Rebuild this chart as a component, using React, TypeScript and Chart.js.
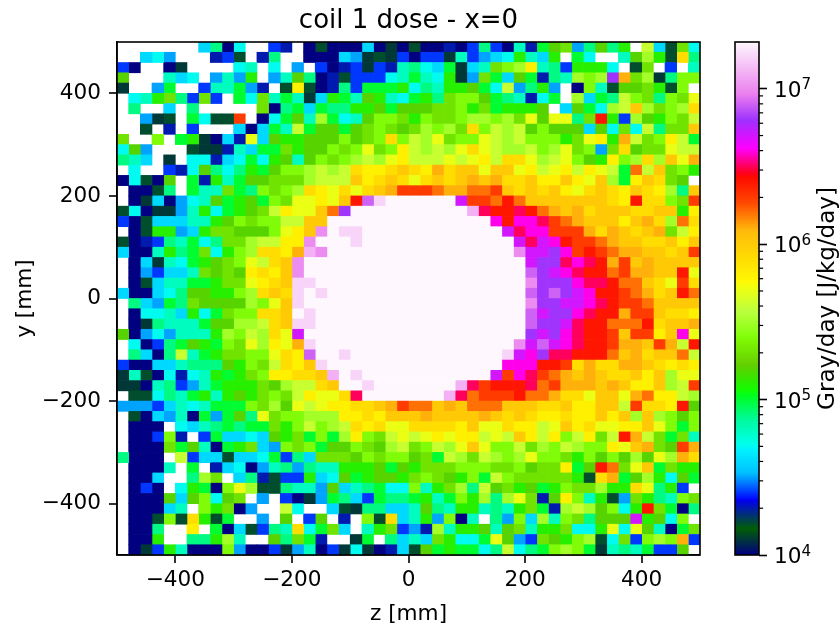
import React, { useEffect, useRef } from "react";
import { Chart, registerables } from "chart.js";

Chart.register(...registerables);

// Dose per cell, tenths of log10(Gray/day). 0 = empty cell. Rows run top (y=+490) to bottom (y=-490), columns z=-490..490.
const doseRow00 = [0,0,0,0,0,0,0,46,49,40,47,0,0,44,43,0,40,42,40,40,40,46,40,41,40,42,40,40,43,40,44,49,44,40,48,43,50,52,53,45,49,52,49,51,0,56,46,42,53,47];
const doseRow01 = [0,0,46,47,45,0,0,0,43,44,42,0,43,49,0,0,40,40,40,46,45,41,42,41,44,40,44,44,41,48,44,45,46,47,51,48,46,51,0,50,47,0,0,48,52,55,51,42,59,49];
const doseRow02 = [44,40,0,0,40,41,0,0,0,0,47,48,0,47,0,45,0,44,40,43,44,41,44,43,48,49,47,46,50,41,46,48,53,54,55,58,48,49,44,51,51,51,47,0,42,53,0,44,0,48];
const doseRow03 = [52,0,0,0,48,46,47,0,45,48,45,51,0,45,48,52,49,40,43,42,44,44,44,47,48,50,48,47,51,41,45,53,50,46,52,50,43,49,48,55,54,55,68,61,53,55,41,49,54,54];
const doseRow04 = [41,0,0,45,50,0,0,44,48,48,50,45,43,0,42,58,42,40,43,49,44,50,50,50,51,47,49,48,51,51,52,50,47,56,45,49,51,45,0,40,54,48,42,52,52,53,51,42,54,0];
const doseRow05 = [0,47,48,51,53,49,44,53,44,0,50,47,53,48,50,48,41,46,51,50,48,52,51,48,47,50,51,49,53,54,54,52,50,49,48,43,47,50,0,55,46,50,49,56,54,53,49,54,53,57];
const doseRow06 = [0,49,0,0,46,0,49,0,0,0,0,0,53,40,49,50,46,50,49,49,51,51,52,50,52,52,52,53,53,54,51,53,50,51,51,51,52,0,46,52,50,47,55,56,60,55,53,54,55,59];
const doseRow07 = [0,0,45,41,42,0,50,47,42,42,63,0,40,47,50,52,48,55,50,47,48,52,54,54,53,51,54,53,53,54,55,55,54,55,53,57,52,57,57,49,53,64,51,44,55,52,51,54,53,56];
const doseRow08 = [0,0,42,0,43,0,44,0,0,0,46,40,46,50,48,56,50,52,52,50,52,53,54,53,52,53,55,54,55,53,59,54,56,55,56,52,54,52,52,52,46,52,47,53,47,56,49,53,53,60];
const doseRow09 = [53,0,0,54,0,50,51,41,40,46,43,57,46,52,51,51,52,52,52,54,52,53,54,59,54,56,55,57,53,54,54,57,56,55,56,54,54,54,51,53,57,58,51,61,56,53,54,58,56,50];
const doseRow10 = [47,52,45,0,0,0,42,41,41,43,48,46,50,50,53,51,52,52,54,53,54,57,53,54,58,56,55,56,55,57,59,57,56,55,55,56,54,55,57,53,54,45,53,59,52,53,53,57,56,56];
const doseRow11 = [49,48,46,0,41,0,47,47,43,46,47,50,47,51,52,48,52,54,53,54,55,56,55,57,58,56,56,56,57,56,57,58,56,59,59,57,55,56,57,54,52,51,58,54,55,59,55,60,57,61];
const doseRow12 = [0,47,0,0,44,43,47,52,49,47,49,51,50,52,54,54,55,56,55,56,59,58,58,59,60,59,58,61,59,60,60,57,60,60,57,58,56,57,58,56,58,57,56,50,62,56,60,53,54,51];
const doseRow13 = [40,47,42,40,52,0,50,43,51,48,50,52,52,53,53,53,55,56,56,56,60,58,59,60,59,57,59,60,59,60,61,60,61,59,59,60,58,58,60,58,57,60,55,50,58,60,59,53,52,0];
const doseRow14 = [0,40,40,42,49,0,50,48,48,53,50,49,54,53,54,55,59,58,57,59,57,59,60,61,63,63,63,62,61,61,62,62,63,60,59,60,59,60,58,57,59,60,59,58,60,59,58,55,49,60];
const doseRow15 = [0,40,41,46,40,45,47,48,52,50,51,52,50,54,53,57,57,58,57,60,64,69,72,73,73,73,73,73,73,67,63,63,62,64,62,60,60,60,60,60,60,60,59,58,64,59,59,54,53,63];
const doseRow16 = [42,47,40,41,41,45,48,51,47,50,51,52,53,56,58,57,57,60,62,68,73,73,73,73,73,73,73,73,73,73,71,65,64,64,65,64,62,61,60,61,59,60,60,60,59,59,60,60,51,58];
const doseRow17 = [44,40,42,46,46,46,48,48,51,52,54,53,54,54,56,56,60,60,73,73,73,73,73,73,73,73,73,73,73,73,73,73,66,64,66,66,65,63,62,61,60,60,60,58,60,61,59,55,62,59];
const doseRow18 = [0,40,42,51,51,45,46,51,53,53,52,52,52,54,57,58,60,70,73,72,72,73,73,73,73,73,73,73,73,73,73,73,73,67,65,66,66,63,63,63,61,59,61,60,59,60,61,53,56,58];
const doseRow19 = [42,40,43,44,49,48,50,47,49,53,53,55,56,56,58,58,70,73,73,73,72,73,73,73,73,73,73,73,73,73,73,73,73,73,67,65,67,66,64,63,63,62,61,60,60,59,59,60,58,60];
const doseRow20 = [46,40,40,48,51,49,50,53,47,51,54,55,59,59,58,61,71,70,73,73,73,73,73,73,73,73,73,73,73,73,73,73,73,73,70,67,67,68,66,63,64,63,62,61,61,60,60,59,60,63];
const doseRow21 = [0,40,46,41,48,47,50,51,52,53,54,57,56,59,60,70,73,73,73,73,73,73,73,73,73,73,73,73,73,73,73,73,73,73,73,67,68,68,65,66,65,64,61,63,60,61,60,60,60,60];
const doseRow22 = [0,40,45,44,46,46,48,53,52,53,52,58,59,58,60,70,73,73,73,73,73,73,73,73,73,73,73,73,73,73,73,73,73,73,73,69,68,67,66,65,64,64,62,63,61,61,60,60,64,57];
const doseRow23 = [0,40,42,46,48,48,50,50,51,53,53,57,58,59,60,72,72,73,73,73,73,73,73,73,73,73,73,73,73,73,73,73,73,73,73,70,68,68,68,66,65,65,64,62,62,60,59,57,63,59];
const doseRow24 = [46,40,40,46,47,49,52,52,51,51,54,55,59,60,59,72,73,72,73,73,73,73,73,73,73,73,73,73,73,73,73,73,73,73,73,69,68,69,68,67,66,64,64,63,62,61,59,60,64,62];
const doseRow25 = [0,49,46,45,50,49,53,52,52,52,52,55,54,57,60,72,73,73,73,73,73,73,73,73,73,73,73,73,73,73,73,73,73,73,73,70,68,68,67,67,66,65,64,63,63,62,60,60,60,60];
const doseRow26 = [0,40,47,47,48,46,51,47,50,53,54,54,59,59,60,73,72,73,73,73,73,73,73,73,73,73,73,73,73,73,73,73,73,73,73,69,67,68,68,66,65,64,64,61,63,63,60,59,59,58];
const doseRow27 = [0,40,41,49,48,48,48,50,52,52,55,55,56,59,60,72,72,73,73,73,73,73,73,73,73,73,73,73,73,73,73,73,73,73,73,69,68,68,67,65,64,64,62,62,62,64,59,60,60,61];
const doseRow28 = [52,40,45,47,45,48,48,48,51,55,54,56,55,59,57,67,73,73,73,73,73,73,73,73,73,73,73,73,73,73,73,73,73,73,73,68,67,68,66,65,64,64,63,60,63,63,58,60,66,57];
const doseRow29 = [0,47,40,44,49,50,52,51,50,54,53,57,55,58,57,61,72,73,73,73,73,73,73,73,73,73,73,73,73,73,73,73,73,73,70,67,69,67,66,65,64,64,63,61,61,60,63,61,56,64];
const doseRow30 = [0,49,46,40,49,56,48,50,51,53,53,54,54,57,59,58,69,73,73,72,73,73,73,73,73,73,73,73,73,73,73,73,73,72,67,66,68,65,65,64,64,64,62,60,61,59,60,60,62,56];
const doseRow31 = [44,40,40,46,46,48,49,49,49,52,51,54,53,56,59,58,60,72,73,73,73,73,73,73,73,73,73,73,73,73,73,73,73,66,66,66,64,64,63,59,61,59,59,61,61,60,59,58,59,58];
const doseRow32 = [41,48,42,40,47,43,47,48,51,50,51,53,54,58,58,59,59,60,71,73,72,73,73,73,73,73,73,73,73,73,73,73,67,63,66,65,63,62,61,60,61,60,59,59,60,58,60,55,57,57];
const doseRow33 = [41,41,40,48,49,44,45,48,50,51,51,51,53,52,55,56,56,59,60,73,73,72,73,73,73,73,73,73,73,71,65,63,64,64,64,65,62,63,61,61,61,60,61,60,58,58,60,55,56,63];
const doseRow34 = [0,42,42,47,49,48,50,51,48,51,52,51,53,54,53,56,58,57,57,59,65,73,73,73,73,73,73,73,71,65,62,63,63,63,64,62,62,61,59,59,57,60,60,57,61,62,58,58,56,55];
const doseRow35 = [45,45,45,44,46,48,47,48,50,50,50,54,53,55,52,57,56,57,58,58,59,59,60,61,63,62,62,60,61,60,62,62,62,60,60,60,59,59,60,58,58,60,60,56,63,59,59,58,64,52];
const doseRow36 = [0,42,40,46,45,48,40,50,45,50,52,49,57,53,54,54,55,55,55,58,58,59,58,60,60,60,61,60,60,60,60,61,60,59,60,59,58,58,59,58,58,60,58,60,55,60,55,54,52,54];
const doseRow37 = [0,40,40,40,0,47,46,48,49,50,49,50,50,53,51,54,56,54,55,56,59,58,59,57,57,59,59,59,59,58,60,57,57,59,58,58,56,57,60,58,59,57,57,58,58,60,57,54,50,54];
const doseRow38 = [0,40,40,44,54,43,0,44,50,46,46,47,46,52,51,53,50,54,50,55,58,54,53,56,57,56,57,58,57,58,58,56,57,56,60,58,56,58,54,56,58,53,56,64,61,56,53,50,53,48];
const doseRow39 = [0,40,40,40,53,50,52,48,40,50,51,53,46,45,54,53,54,50,52,52,54,53,52,55,56,53,54,56,55,57,60,57,54,54,56,53,55,54,56,55,54,54,58,57,60,61,53,52,63,61];
const doseRow40 = [49,40,40,40,0,56,44,46,46,42,46,46,47,50,44,49,46,53,53,53,52,54,53,54,54,52,53,50,56,55,53,56,55,54,55,57,54,54,53,51,54,52,54,52,55,52,57,55,61,59];
const doseRow41 = [0,40,40,40,48,0,50,0,43,46,47,40,45,48,49,45,49,48,48,51,51,51,52,50,52,51,53,53,53,54,54,54,53,53,54,52,53,53,58,50,52,64,62,53,57,60,50,53,51,51];
const doseRow42 = [0,40,40,46,0,0,49,55,53,0,46,49,43,42,44,44,51,46,47,52,50,51,52,52,51,53,54,53,52,51,54,50,56,54,53,53,53,53,53,51,42,59,61,50,52,55,51,47,52,50];
const doseRow43 = [0,40,44,40,0,47,51,50,40,54,57,55,42,42,49,48,48,45,52,46,48,49,50,47,47,54,48,51,53,55,49,56,52,53,51,52,50,51,54,53,53,55,51,51,59,57,49,51,44,0];
const doseRow44 = [0,40,40,40,52,46,52,54,47,52,53,0,45,0,44,40,41,45,50,49,46,44,50,49,49,50,51,48,50,54,51,55,49,55,57,53,43,52,58,54,48,51,42,45,53,51,49,48,54,53];
const doseRow45 = [0,40,40,40,46,48,0,54,51,53,40,45,0,0,56,47,0,0,46,42,41,49,49,46,46,48,52,49,48,51,51,48,49,48,51,53,50,43,55,56,55,52,54,47,51,64,53,50,40,49];
const doseRow46 = [0,40,40,42,54,42,59,51,42,50,0,0,45,0,52,0,44,52,0,43,0,54,42,59,46,48,51,45,54,40,48,0,49,45,54,46,55,48,54,53,49,52,52,52,67,51,52,47,54,0];
const doseRow47 = [0,40,40,49,0,0,58,0,50,40,46,42,44,49,48,59,47,50,53,46,0,48,51,53,44,45,43,55,48,51,51,52,48,52,53,48,51,51,53,47,47,51,57,47,57,52,48,40,50,53];
const doseRow48 = [0,40,40,51,0,0,49,49,51,55,48,0,0,52,49,53,50,43,0,0,41,50,0,49,46,48,46,53,51,47,47,50,57,52,45,44,53,52,51,54,55,42,47,53,44,54,55,54,61,44];
const doseRow49 = [0,40,41,44,51,48,40,40,40,54,45,40,40,44,41,45,48,40,44,41,47,41,40,43,46,42,52,50,51,50,50,47,49,56,47,49,50,54,55,54,50,41,48,49,48,50,44,44,52,0];

const doseRows = [
  doseRow00, doseRow01, doseRow02, doseRow03, doseRow04, doseRow05, doseRow06, doseRow07, doseRow08, doseRow09,
  doseRow10, doseRow11, doseRow12, doseRow13, doseRow14, doseRow15, doseRow16, doseRow17, doseRow18, doseRow19,
  doseRow20, doseRow21, doseRow22, doseRow23, doseRow24, doseRow25, doseRow26, doseRow27, doseRow28, doseRow29,
  doseRow30, doseRow31, doseRow32, doseRow33, doseRow34, doseRow35, doseRow36, doseRow37, doseRow38, doseRow39,
  doseRow40, doseRow41, doseRow42, doseRow43, doseRow44, doseRow45, doseRow46, doseRow47, doseRow48, doseRow49,
];

const axisTicks = [-400, -200, 0, 200, 400];
const colorbarMajorTicks = [1e4, 1e5, 1e6, 1e7];
const colorbarExponents = ["4", "5", "6", "7"];
const colorbarMinorTicks = [2e4,3e4,4e4,5e4,6e4,7e4,8e4,9e4,2e5,3e5,4e5,5e5,6e5,7e5,8e5,9e5,2e6,3e6,4e6,5e6,6e6,7e6,8e6,9e6];
const doseMin = 1e4;
const doseMax = 2e7;
const FONT = "'DejaVu Sans'";
const TICK_SIZE = 21.6;

// gist_ncar segment tables
const cmapRed = [[0,0],[0.3098,0],[0.3725,0.3993],[0.4235,0.5003],[0.5333,1],[0.7922,1],[0.8471,0.6218],[0.898,0.9235],[1,0.9961]];
const cmapGreen = [[0,0],[0.051,0.3722],[0.1059,0],[0.1569,0.7202],[0.1608,0.7537],[0.1647,0.7752],[0.2157,1],[0.2588,0.9804],[0.2706,0.9804],[0.3176,1],[0.3686,0.8081],[0.4275,1],[0.5216,1],[0.6314,0.7292],[0.6863,0.2796],[0.7451,0],[0.7922,0],[0.8431,0.1753],[0.898,0.5],[1,0.9725]];
const cmapBlue = [[0,0.502],[0.051,0.0222],[0.1098,1],[0.2039,1],[0.2627,0.6145],[0.3216,0],[0.4157,0],[0.4745,0.2342],[0.5333,0],[0.5804,0],[0.6314,0.0431],[0.6902,0],[0.7373,0],[0.7922,1],[0.8431,1],[0.898,0.9341],[1,0.9961]];

function channel(table: number[][], f: number) {
  for (let i = 1; i < table.length; i++) {
    if (f <= table[i][0]) {
      const [a, av] = table[i - 1];
      const [b, bv] = table[i];
      return Math.round(255 * (av + ((f - a) / (b - a)) * (bv - av)));
    }
  }
  return Math.round(255 * table[table.length - 1][1]);
}
function colorAt(f: number) {
  const t = Math.min(1, Math.max(0, f));
  return `rgb(${channel(cmapRed, t)},${channel(cmapGreen, t)},${channel(cmapBlue, t)})`;
}
const logSpan = Math.log10(doseMax / doseMin);
const colorOfDose = (tenths: number) => colorAt((tenths / 10 - 4) / logSpan);

const frame = {
  id: "frame",
  afterDraw(chart: any) {
    const { ctx, chartArea: a } = chart;
    ctx.save();
    ctx.strokeStyle = "#000";
    ctx.lineWidth = 1.6;
    ctx.strokeRect(a.left, a.top, a.right - a.left, a.bottom - a.top);
    ctx.restore();
  },
};

const colorbarExtras = {
  id: "colorbarExtras",
  afterDraw(chart: any) {
    const { ctx, chartArea: a, scales } = chart;
    ctx.save();
    ctx.strokeStyle = "#000";
    ctx.fillStyle = "#000";
    ctx.lineWidth = 1.2;
    for (const v of colorbarMinorTicks) {
      const y = scales.y.getPixelForValue(v);
      ctx.beginPath();
      ctx.moveTo(a.right, y);
      ctx.lineTo(a.right + 4.1, y);
      ctx.stroke();
    }
    ctx.textAlign = "left";
    ctx.textBaseline = "alphabetic";
    colorbarMajorTicks.forEach((v, i) => {
      const y = scales.y.getPixelForValue(v);
      ctx.font = `${TICK_SIZE}px ${FONT}`;
      ctx.fillText("10", a.right + 15, y + 8);
      ctx.font = `${TICK_SIZE * 0.7}px ${FONT}`;
      ctx.fillText(colorbarExponents[i], a.right + 42.5, y + 0.7);
    });
    ctx.translate(828, 298.5);
    ctx.rotate(-Math.PI / 2);
    ctx.font = `23px ${FONT}`;
    ctx.textAlign = "center";
    ctx.textBaseline = "middle";
    ctx.fillText("Gray/day [J/kg/day]", 0, 0);
    ctx.restore();
  },
};

const tickLabel = (v: any) => String(v).replace("-", "\u2212");

function axisOptions(title: string, tickPad: number, titlePadding: any, fit: (s: any) => void) {
  return {
    type: "linear",
    min: -500,
    max: 500,
    offset: false,
    afterBuildTicks(s: any) {
      s.ticks = axisTicks.map((value) => ({ value }));
    },
    afterFit: fit,
    grid: { offset: false, lineWidth: 0, drawOnChartArea: false, drawTicks: true, tickLength: 8, tickColor: "#000", tickWidth: 1.6 },
    border: { display: true, color: "#000", width: 1.6 },
    ticks: {
      color: "#000",
      font: { family: FONT, size: TICK_SIZE },
      padding: tickPad,
      maxRotation: 0,
      autoSkip: false,
      callback: tickLabel,
    },
    title: { display: true, text: title, color: "#000", font: { family: FONT, size: TICK_SIZE }, padding: titlePadding },
  };
}

export default function App() {
  const mainRef = useRef<HTMLCanvasElement>(null);
  const barRef = useRef<HTMLCanvasElement>(null);

  useEffect(() => {
    const nCols = doseRows[0].length;
    const datasets = Array.from({ length: nCols }, (_, c) => {
      const z = -490 + 20 * c;
      const cells = doseRows
        .map((row, r) => ({ y: 490 - 20 * r, v: row[c] }))
        .filter((p) => p.v > 0);
      return {
        data: cells.map((p) => ({ x: [z - 10, z + 10], y: p.y })),
        backgroundColor: cells.map((p) => colorOfDose(p.v)),
        barPercentage: 1,
        categoryPercentage: 1,
        grouped: false,
        borderWidth: 0,
      };
    });

    const main = new Chart(mainRef.current as any, {
      type: "bar",
      data: { datasets } as any,
      plugins: [frame],
      options: {
        indexAxis: "y",
        animation: false,
        responsive: false,
        events: [],
        layout: { padding: { right: 140 } },
        plugins: {
          legend: { display: false },
          tooltip: { enabled: false },
          title: {
            display: true,
            text: "coil 1 dose - x=0",
            color: "#000",
            fullSize: false,
            font: { family: FONT, size: 26, weight: "normal" },
            padding: { top: 6, bottom: 4.8 },
          },
        },
        scales: {
          x: axisOptions("z [mm]", 4, { top: 0, bottom: 1 }, (s: any) => {
            s.height = 73;
          }),
          y: axisOptions("y [mm]", 8, { top: 12, bottom: 0 }, (s: any) => {
            s.width = 117;
          }),
        },
      } as any,
    });

    const bandCount = 256;
    const bandDatasets = Array.from({ length: bandCount }, (_, i) => ({
      data: [[doseMin * Math.pow(doseMax / doseMin, i / bandCount), doseMin * Math.pow(doseMax / doseMin, (i + 1) / bandCount)]],
      backgroundColor: colorAt((i + 0.5) / bandCount),
      barPercentage: 1,
      categoryPercentage: 1,
      grouped: false,
      borderWidth: 0,
    }));

    const bar = new Chart(barRef.current as any, {
      type: "bar",
      data: { labels: [""], datasets: bandDatasets } as any,
      plugins: [frame, colorbarExtras],
      options: {
        animation: false,
        responsive: false,
        events: [],
        layout: { padding: { left: 735, top: 42, bottom: 73 } },
        plugins: { legend: { display: false }, tooltip: { enabled: false } },
        scales: {
          x: { display: false },
          y: {
            type: "logarithmic",
            position: "right",
            min: doseMin,
            max: doseMax,
            afterBuildTicks(s: any) {
              s.ticks = colorbarMajorTicks.map((value) => ({ value, major: true }));
            },
            afterFit(s: any) {
              s.width = 81;
            },
            grid: { drawOnChartArea: false, drawTicks: true, tickLength: 8, tickColor: "#000", tickWidth: 1.6 },
            border: { display: false },
            ticks: { display: false },
          },
        },
      } as any,
    });

    return () => {
      main.destroy();
      bar.destroy();
    };
  }, []);

  const canvasStyle: React.CSSProperties = { position: "absolute", left: 0, top: 0, display: "block" };
  return (
    <div style={{ position: "absolute", left: 0, top: 0, width: 840, height: 628, background: "#fff" }}>
      <canvas ref={mainRef} width={840} height={628} style={canvasStyle} />
      <canvas ref={barRef} width={840} height={628} style={canvasStyle} />
    </div>
  );
}
